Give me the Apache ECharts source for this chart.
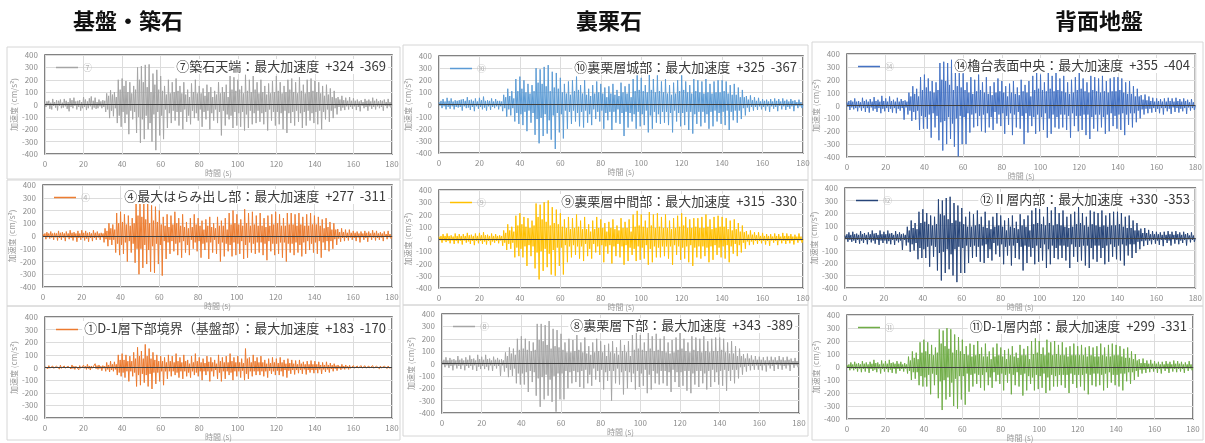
<!DOCTYPE html>
<html>
<head>
<meta charset="utf-8">
<title>加速度時刻歴</title>
<script src="https://cdn.jsdelivr.net/npm/echarts@6/dist/echarts.min.js"></script>
<style>
  html, body { margin: 0; background: #fff; }
  #main { width: 1205px; height: 443px; }
</style>
</head>
<body>
<div id="main"></div>
<script>
// sampling step of the digitised records (s)
const DT = 0.5;

const groupTitles = ['基盤・築石', '裏栗石', '背面地盤'];
const legendNames = ['⑦', '⑩', '⑭', '④', '⑨', '⑫', '①', '⑧', '⑪'];
const notes = [
  '⑦築石天端：最大加速度  +324  -369',
  '⑩裏栗層城部：最大加速度  +325  -367',
  '⑭櫓台表面中央：最大加速度  +355  -404',
  '④最大はらみ出し部：最大加速度  +277  -311',
  '⑨裏栗層中間部：最大加速度  +315  -330',
  '⑫Ⅱ層内部：最大加速度  +330  -353',
  '①D-1層下部境界（基盤部）：最大加速度  +183  -170',
  '⑧裏栗層下部：最大加速度  +343  -389',
  '⑪D-1層内部：最大加速度  +299  -331'
];
const yTicks = { min: -400, max: 400, step: 100 };
const xTicks = { min: 0, max: 180, step: 20 };

// acceleration (cm/s2), two values per second, one row = 10 s
const acc07 = [
  10,-20,25,-8,30,-35,15,-40,45,-12,20,-25,35,-48,30,-10,40,-30,15,-25,
  45,-15,30,-35,20,-55,50,-20,35,-30,55,-10,25,-40,30,-20,35,-50,20,-30,
  60,-20,40,-45,25,-30,50,-15,65,-40,30,-25,55,-35,20,-30,40,-15,25,-30,
  35,-20,30,-60,90,-40,70,-110,115,-50,80,-95,100,-30,60,-150,200,-90,120,-180,
  210,-60,150,-150,190,-80,100,-240,180,-50,90,-120,150,-60,120,-230,300,-100,200,-310,
  310,-120,180,-280,320,-90,140,-200,324,-150,100,-300,250,-80,160,-369,280,-60,120,-250,
  230,-90,110,-280,150,-40,80,-190,200,-70,90,-150,180,-50,100,-130,210,-60,110,-170,
  150,-60,90,-200,180,-40,80,-140,120,-90,60,-160,170,-50,100,-110,200,-70,90,-130,
  150,-40,90,-180,130,-60,70,-120,160,-50,100,-200,140,-70,60,-130,110,-40,80,-150,
  180,-60,90,-250,140,-50,100,-170,160,-80,60,-120,230,-90,120,-190,220,-60,110,-170,
  200,-70,120,-180,150,-60,90,-210,240,-80,110,-190,200,-50,100,-160,230,-70,120,-150,
  180,-50,90,-140,200,-70,100,-160,150,-60,80,-210,170,-40,90,-130,190,-60,100,-170,
  230,-60,110,-160,180,-70,90,-200,150,-50,100,-230,200,-70,120,-150,210,-60,100,-170,
  180,-50,90,-140,220,-70,110,-190,160,-60,90,-170,200,-50,100,-130,210,-70,110,-150,
  190,-60,100,-160,180,-50,90,-200,150,-60,70,-120,160,-40,80,-140,130,-50,60,-110,
  110,-30,50,-80,60,-20,40,-50,70,-25,35,-45,55,-15,30,-40,60,-20,30,-35,
  50,-15,30,-45,40,-20,25,-55,35,-10,20,-30,45,-20,30,-50,40,-15,25,-35,
  55,-20,30,-40,45,-15,25,-30,35,-20,30,-50,40,-10,20,-30,45,-15,20,-25,
  0
];
const acc10 = [
  20,-10,30,-30,45,-15,25,-40,55,-20,30,-35,50,-15,25,-40,35,-20,30,-25,
  35,-20,40,-50,45,-15,30,-30,60,-25,35,-45,40,-20,30,-55,50,-15,25,-35,
  55,-20,35,-40,65,-25,30,-50,35,-15,30,-45,50,-20,25,-30,45,-15,30,-40,
  30,-15,25,-55,80,-30,60,-100,130,-40,70,-90,110,-30,50,-140,210,-70,110,-160,
  230,-80,130,-170,200,-60,100,-220,170,-50,90,-150,160,-70,110,-250,300,-120,180,-320,
  290,-110,170,-260,310,-80,150,-240,325,-130,110,-290,270,-90,140,-367,260,-70,130,-230,
  220,-80,100,-280,170,-50,90,-200,190,-60,80,-160,200,-50,110,-140,230,-70,120,-180,
  160,-60,90,-190,200,-50,80,-150,130,-80,70,-170,160,-40,90,-120,190,-60,100,-140,
  170,-50,90,-200,140,-70,60,-130,150,-60,90,-210,170,-60,80,-150,120,-40,70,-160,
  180,-70,100,-260,150,-60,90,-190,170,-70,60,-140,210,-80,110,-200,240,-60,120,-180,
  220,-80,110,-170,160,-50,100,-230,250,-90,120,-200,210,-60,100,-150,240,-80,110,-160,
  190,-60,100,-150,210,-60,90,-170,160,-70,80,-230,180,-50,90,-140,200,-70,110,-180,
  240,-70,120,-170,190,-60,100,-210,160,-60,90,-240,210,-80,110,-160,200,-60,100,-180,
  190,-60,90,-150,210,-80,100,-200,170,-60,90,-180,190,-50,100,-140,200,-70,100,-160,
  200,-60,110,-170,190,-50,90,-210,160,-60,80,-130,170,-50,80,-150,140,-50,60,-120,
  120,-30,60,-90,70,-25,40,-60,75,-20,35,-50,60,-20,30,-45,55,-15,25,-40,
  45,-20,30,-50,40,-15,25,-60,45,-15,25,-35,50,-20,30,-55,45,-10,25,-40,
  50,-15,30,-45,40,-20,25,-35,45,-15,30,-55,35,-10,20,-30,40,-15,20,-30,
  0
];
const acc14 = [
  25,-10,35,-35,40,-15,30,-30,55,-20,30,-45,35,-15,25,-40,60,-20,35,-50,
  45,-20,30,-55,50,-15,30,-40,65,-25,35,-50,45,-20,30,-60,75,-25,35,-45,
  55,-20,30,-50,70,-25,35,-55,45,-20,30,-60,60,-25,30,-40,50,-20,35,-110,
  40,-15,30,-70,100,-40,70,-120,150,-50,90,-110,130,-40,70,-190,220,-80,120,-180,
  240,-90,140,-180,210,-70,110,-250,190,-60,100,-170,180,-80,120,-270,330,-130,200,-350,
  340,-120,190,-300,330,-90,160,-260,355,-140,120,-320,290,-100,150,-395,270,-80,140,-300,
  250,-90,120,-300,180,-60,100,-210,220,-70,90,-170,200,-60,110,-160,240,-80,120,-200,
  180,-70,100,-210,220,-60,90,-170,150,-90,80,-190,180,-50,100,-140,210,-70,110,-160,
  190,-60,100,-220,150,-80,70,-150,170,-60,100,-230,190,-70,90,-170,140,-50,80,-180,
  200,-80,110,-300,160,-60,100,-210,190,-80,70,-160,230,-90,120,-220,260,-70,130,-200,
  240,-90,120,-190,180,-60,110,-250,270,-100,130,-220,230,-70,110,-170,260,-90,120,-180,
  210,-70,110,-170,230,-70,100,-190,180,-80,90,-250,200,-60,100,-160,220,-80,120,-200,
  260,-80,130,-190,210,-70,110,-230,180,-70,100,-260,230,-90,120,-180,220,-70,110,-200,
  210,-70,100,-170,230,-90,110,-220,190,-70,100,-200,210,-60,110,-160,220,-80,110,-180,
  220,-70,120,-190,210,-60,100,-230,180,-70,90,-150,190,-60,90,-170,150,-60,70,-130,
  130,-40,70,-100,80,-30,45,-70,85,-25,40,-60,70,-25,35,-55,60,-20,30,-50,
  55,-25,35,-60,50,-20,30,-70,55,-20,30,-45,60,-25,35,-65,55,-15,30,-50,
  60,-20,35,-55,50,-25,30,-45,55,-20,35,-65,45,-15,25,-40,50,-20,25,-35,
  0
];
const acc04 = [
  15,-8,20,-25,30,-10,20,-20,35,-12,20,-30,25,-10,20,-35,40,-15,25,-30,
  30,-12,20,-40,35,-10,20,-25,45,-15,25,-35,30,-12,20,-45,40,-15,20,-30,
  45,-15,25,-35,40,-20,25,-45,30,-15,20,-40,45,-15,25,-30,35,-12,20,-30,
  25,-10,20,-50,60,-25,40,-80,100,-30,60,-70,90,-30,50,-130,180,-60,100,-150,
  190,-70,110,-140,170,-50,90,-200,160,-40,80,-130,140,-60,100,-210,270,-100,160,-300,
  260,-100,150,-250,265,-70,130,-220,277,-110,100,-280,240,-80,120,-290,230,-60,110,-220,
  200,-70,90,-311,150,-40,80,-180,170,-50,70,-140,160,-40,90,-120,190,-60,100,-150,
  140,-50,80,-170,170,-40,70,-130,110,-70,60,-150,140,-30,70,-100,170,-50,90,-120,
  140,-40,80,-170,120,-60,50,-110,130,-50,80,-180,150,-50,70,-130,100,-30,60,-140,
  150,-60,80,-200,120,-50,80,-160,140,-60,50,-120,180,-70,90,-160,200,-50,100,-150,
  170,-60,90,-140,130,-40,80,-180,210,-70,100,-170,180,-50,80,-130,190,-60,90,-140,
  160,-50,80,-130,180,-50,80,-150,140,-60,70,-190,160,-40,80,-120,170,-60,90,-150,
  190,-60,100,-140,170,-50,80,-170,140,-50,80,-200,180,-60,90,-130,180,-60,90,-150,
  170,-50,80,-130,180,-70,90,-160,150,-50,80,-140,170,-40,80,-110,180,-60,90,-130,
  160,-50,90,-140,150,-40,80,-170,130,-50,60,-110,140,-40,70,-120,110,-40,50,-100,
  100,-25,50,-70,55,-20,30,-45,60,-15,30,-40,50,-15,25,-35,50,-12,25,-30,
  40,-15,25,-40,35,-12,20,-50,35,-10,20,-30,40,-15,25,-45,35,-10,20,-30,
  45,-12,25,-35,40,-15,20,-30,30,-12,20,-40,35,-8,15,-25,40,-10,15,-20,
  0
];
const acc09 = [
  20,-10,25,-30,40,-12,25,-25,45,-15,25,-35,30,-12,20,-40,45,-15,25,-35,
  40,-15,25,-45,40,-12,25,-30,50,-20,30,-40,35,-15,25,-50,45,-15,25,-35,
  50,-15,30,-40,55,-20,30,-45,35,-15,25,-50,45,-20,25,-30,40,-15,25,-35,
  30,-12,25,-55,70,-30,50,-90,120,-40,70,-80,100,-30,60,-150,190,-70,110,-140,
  210,-80,120,-150,180,-60,100,-220,170,-50,90,-140,150,-60,110,-240,290,-110,180,-330,
  280,-100,160,-260,300,-80,140,-230,315,-120,110,-290,260,-90,130,-300,240,-70,120,-220,
  210,-70,100,-290,160,-50,90,-190,180,-60,80,-150,170,-50,90,-130,200,-60,100,-160,
  150,-60,80,-180,180,-40,80,-140,120,-80,60,-160,150,-40,80,-110,180,-60,90,-130,
  160,-50,90,-190,130,-60,60,-120,140,-50,90,-200,160,-60,80,-140,110,-40,70,-150,
  170,-60,90,-210,140,-50,90,-180,160,-70,60,-130,200,-80,100,-180,230,-60,110,-170,
  200,-70,100,-160,150,-50,90,-210,220,-80,110,-190,200,-60,90,-150,210,-70,100,-150,
  180,-60,90,-140,200,-60,90,-160,150,-60,80,-210,170,-50,90,-130,190,-60,100,-170,
  210,-70,110,-160,180,-60,90,-190,160,-50,90,-220,170,-70,100,-150,170,-60,90,-160,
  180,-60,90,-140,200,-70,100,-190,160,-60,80,-170,180,-50,90,-130,190,-70,100,-150,
  180,-60,100,-160,170,-50,80,-190,150,-60,70,-120,160,-40,80,-140,130,-50,60,-110,
  110,-30,55,-80,65,-20,35,-50,70,-20,35,-45,55,-15,30,-40,55,-15,25,-35,
  50,-15,25,-45,40,-15,25,-55,40,-12,20,-30,45,-15,25,-50,40,-12,20,-35,
  50,-15,25,-40,45,-15,25,-35,40,-15,20,-45,35,-10,20,-30,45,-12,20,-30,
  0
];
const acc12 = [
  20,-10,30,-30,45,-15,25,-30,50,-20,30,-40,35,-15,25,-45,55,-20,30,-40,
  40,-15,25,-50,45,-15,30,-35,60,-20,35,-45,40,-15,25,-55,60,-20,30,-40,
  50,-20,30,-45,60,-25,35,-50,40,-15,25,-55,55,-20,30,-35,45,-20,30,-95,
  35,-15,25,-60,90,-35,60,-110,140,-50,80,-100,120,-40,70,-170,210,-80,120,-160,
  230,-90,130,-160,200,-70,110,-230,180,-60,100,-150,170,-70,110,-260,310,-120,190,-340,
  300,-110,180,-280,320,-90,150,-250,330,-130,120,-300,280,-90,140,-353,260,-70,130,-280,
  240,-80,110,-280,170,-60,90,-200,210,-70,90,-160,190,-60,100,-150,220,-70,110,-190,
  170,-60,90,-200,210,-50,80,-160,140,-90,70,-180,170,-40,90,-130,200,-60,100,-150,
  180,-50,90,-210,140,-70,60,-140,160,-60,90,-220,180,-60,80,-160,130,-40,70,-170,
  190,-70,100,-260,150,-60,90,-200,180,-70,60,-150,220,-80,110,-210,240,-60,120,-190,
  230,-80,110,-180,170,-50,100,-240,250,-90,120,-210,220,-60,100,-160,250,-80,110,-170,
  200,-60,100,-160,220,-60,90,-180,170,-70,80,-240,190,-50,90,-150,210,-70,110,-190,
  250,-70,120,-180,200,-60,100,-220,170,-60,90,-240,220,-80,110,-170,210,-60,100,-190,
  200,-60,90,-160,220,-80,100,-210,180,-60,90,-190,200,-50,100,-150,210,-70,100,-170,
  210,-60,110,-180,200,-50,90,-220,170,-60,80,-140,180,-50,80,-160,140,-50,60,-120,
  120,-30,60,-90,75,-25,40,-65,80,-20,40,-55,65,-20,30,-50,55,-15,30,-45,
  50,-20,30,-55,45,-15,25,-65,50,-15,25,-40,55,-20,30,-60,50,-10,25,-45,
  55,-15,30,-50,45,-20,25,-40,50,-15,30,-60,40,-10,20,-35,45,-15,20,-30,
  0
];
const acc01 = [
  5,-3,8,-10,15,-5,8,-8,12,-6,8,-15,10,-5,6,-12,18,-6,8,-10,
  12,-5,8,-15,10,-4,6,-12,20,-8,10,-15,10,-5,8,-18,15,-6,8,-12,
  18,-6,10,-15,25,-8,12,-20,12,-6,8,-18,30,-10,15,-15,20,-8,10,-25,
  15,-6,10,-30,40,-15,20,-35,50,-20,25,-30,45,-15,25,-60,100,-40,60,-70,
  110,-40,60,-80,100,-30,50,-110,90,-30,50,-70,120,-40,70,-150,160,-60,90,-140,
  130,-50,70,-120,183,-60,90,-150,150,-50,70,-170,120,-40,60,-130,100,-40,50,-110,
  90,-30,50,-140,80,-30,40,-90,100,-30,50,-70,90,-30,40,-60,110,-40,50,-80,
  80,-30,40,-90,100,-30,50,-70,60,-40,30,-80,90,-30,40,-60,110,-40,50,-70,
  80,-30,40,-100,70,-30,35,-60,90,-30,45,-110,80,-30,40,-70,60,-20,30,-90,
  100,-40,50,-110,80,-30,40,-90,90,-30,40,-60,110,-40,50,-100,80,-30,40,-70,
  90,-30,40,-80,70,-25,35,-100,150,-50,70,-90,80,-30,40,-70,100,-30,50,-60,
  80,-30,40,-60,90,-30,40,-70,60,-30,30,-80,70,-25,35,-50,80,-30,40,-60,
  70,-25,35,-60,80,-30,40,-70,60,-20,30,-80,70,-25,35,-50,60,-20,30,-55,
  55,-20,25,-45,60,-20,30,-50,45,-15,25,-55,50,-20,25,-40,55,-20,25,-45,
  50,-20,25,-45,45,-15,20,-50,40,-15,20,-35,45,-15,20,-40,35,-12,18,-30,
  30,-10,15,-25,20,-8,10,-18,25,-8,12,-15,20,-6,10,-15,18,-6,8,-12,
  15,-5,8,-15,12,-4,6,-18,15,-5,8,-10,14,-5,7,-16,12,-4,6,-10,
  15,-5,8,-12,10,-4,5,-10,12,-4,6,-15,10,-3,5,-8,12,-4,5,-6,
  0
];
const acc08 = [
  20,-10,30,-30,50,-15,25,-35,45,-20,30,-55,35,-15,25,-40,60,-20,30,-45,
  40,-15,25,-55,50,-20,30,-35,65,-20,35,-50,40,-15,25,-60,70,-25,35,-45,
  55,-20,30,-45,70,-25,35,-55,40,-15,25,-60,55,-20,30,-40,45,-20,30,-100,
  35,-15,25,-65,90,-35,60,-110,130,-50,80,-100,120,-40,70,-160,200,-80,110,-170,
  220,-80,120,-170,200,-70,110,-230,180,-60,100,-150,170,-70,110,-260,320,-120,190,-350,
  320,-110,180,-290,310,-90,150,-260,343,-130,120,-310,280,-100,140,-389,270,-80,130,-290,
  240,-80,110,-290,170,-60,90,-200,200,-70,90,-160,190,-60,100,-150,230,-70,110,-190,
  170,-60,90,-200,210,-50,80,-160,140,-90,70,-180,170,-40,90,-130,200,-60,100,-150,
  180,-50,90,-210,150,-70,60,-140,160,-60,90,-300,180,-60,80,-160,130,-40,70,-170,
  190,-70,100,-250,150,-60,90,-200,180,-70,60,-150,230,-80,110,-210,250,-60,120,-190,
  230,-80,110,-180,170,-50,100,-240,260,-90,120,-210,220,-60,100,-160,240,-80,110,-170,
  200,-60,100,-160,220,-60,90,-180,170,-70,80,-230,190,-50,90,-150,210,-70,110,-190,
  250,-70,120,-180,200,-60,100,-220,170,-60,90,-240,220,-80,110,-170,210,-60,100,-190,
  200,-60,90,-160,220,-80,100,-210,180,-60,90,-190,200,-50,100,-150,210,-70,100,-170,
  210,-60,110,-180,200,-50,90,-220,170,-60,80,-140,180,-50,80,-160,140,-50,60,-120,
  120,-30,60,-90,75,-25,40,-65,80,-20,40,-55,65,-20,30,-50,60,-15,30,-50,
  55,-20,30,-55,50,-15,25,-65,55,-15,25,-40,55,-20,30,-60,50,-10,25,-45,
  60,-15,30,-50,50,-20,25,-40,55,-15,30,-60,40,-10,20,-35,45,-15,20,-30,
  0
];
const acc11 = [
  15,-8,20,-25,35,-12,20,-25,40,-15,25,-35,30,-12,20,-40,45,-15,25,-35,
  35,-12,20,-45,40,-15,25,-30,55,-20,30,-40,35,-12,20,-50,50,-15,25,-35,
  45,-15,25,-40,55,-20,30,-45,35,-15,25,-50,45,-15,25,-30,40,-15,20,-35,
  30,-12,20,-50,80,-30,50,-100,120,-40,70,-90,110,-40,60,-140,190,-70,110,-150,
  210,-80,120,-150,190,-60,100,-210,170,-50,90,-140,150,-60,110,-240,290,-110,180,-331,
  280,-100,160,-250,299,-80,140,-230,290,-120,110,-300,250,-90,130,-320,230,-70,120,-250,
  210,-70,100,-290,160,-50,90,-190,180,-60,80,-150,170,-50,90,-130,200,-60,100,-160,
  150,-60,80,-180,180,-40,80,-140,120,-80,60,-160,150,-40,80,-110,180,-60,90,-130,
  150,-50,80,-180,130,-60,60,-120,140,-50,90,-210,160,-60,80,-140,110,-40,70,-150,
  170,-60,90,-220,140,-50,90,-180,160,-70,60,-130,200,-80,100,-180,220,-60,110,-170,
  200,-70,100,-160,150,-50,90,-200,210,-80,110,-180,190,-60,90,-150,200,-70,100,-150,
  170,-60,90,-140,190,-60,90,-160,150,-60,80,-200,160,-50,90,-130,180,-60,90,-160,
  160,-60,90,-150,170,-60,90,-180,150,-50,80,-210,160,-60,90,-140,150,-50,80,-150,
  160,-50,80,-140,180,-60,90,-180,150,-50,80,-160,170,-40,80,-120,180,-60,90,-140,
  170,-60,90,-150,160,-50,80,-180,140,-50,70,-110,150,-40,70,-130,120,-40,60,-100,
  100,-30,50,-75,60,-20,30,-50,65,-20,30,-45,50,-15,25,-40,55,-15,25,-35,
  45,-15,25,-45,40,-15,20,-50,40,-12,20,-30,45,-15,25,-45,40,-12,20,-35,
  50,-15,25,-40,45,-15,25,-35,40,-15,20,-45,35,-10,20,-30,45,-12,20,-25,
  0
];

const records = [acc07, acc10, acc14, acc04, acc09, acc12, acc01, acc08, acc11];
const colors = ['#a5a5a5', '#5b9bd5', '#4472c4', '#ed7d31', '#ffc000', '#264478', '#ec7a2f', '#a5a5a5', '#70ad47'];

// plot areas in px: [left, top, width, height]
const plotBoxes = [
  [45, 55, 347, 99], [439, 56, 364, 97], [847, 54, 349, 103],
  [43, 185, 349, 102], [439, 190, 364, 98], [845, 188, 351, 100],
  [45, 317, 347, 101], [442, 314, 357, 99], [847, 315, 346, 104]
];
// outer chart frames: [x, y, w, h]
const frames = [
  [7, 47, 393, 132], [403, 45, 405, 135], [812, 42, 391, 138],
  [7, 180, 393, 126], [403, 180, 405, 125], [812, 180, 391, 126],
  [7, 306, 393, 134], [403, 305, 405, 131], [812, 306, 391, 134]
];
const titleX = [128, 609, 1099];

const FONT = '"Noto Sans CJK JP", "Noto Sans", sans-serif';
const chart = echarts.init(document.getElementById('main'));

const grids = [], xAxes = [], yAxes = [], series = [], legends = [], graphics = [];

frames.forEach(f => {
  graphics.push({
    type: 'rect', silent: true, z: 0,
    shape: { x: f[0], y: f[1], width: f[2], height: f[3] },
    style: { fill: 'none', stroke: '#d6d6d6', lineWidth: 1 }
  });
});

groupTitles.forEach((t, i) => {
  graphics.push({
    type: 'text', silent: true,
    x: titleX[i], y: 21,
    style: { text: t, fill: '#111', font: 'bold 22px ' + FONT, textAlign: 'center', textVerticalAlign: 'middle' }
  });
});

records.forEach((rec, i) => {
  const [l, t, w, h] = plotBoxes[i];
  grids.push({
    left: l, top: t, width: w, height: h,
    show: true, borderColor: '#595959', borderWidth: 1.5, backgroundColor: 'transparent'
  });
  xAxes.push({
    type: 'value', gridIndex: i,
    min: xTicks.min, max: xTicks.max, interval: xTicks.step,
    name: '時間 (s)', nameLocation: 'middle', nameGap: 15,
    nameTextStyle: { fontSize: 8, color: '#9a9a9a', fontFamily: FONT },
    axisLine: { show: false }, axisTick: { show: false },
    axisLabel: { fontSize: 8, color: '#8c8c8c', margin: 6 },
    splitLine: { lineStyle: { color: '#dcdcdc', width: 1 } }
  });
  yAxes.push({
    type: 'value', gridIndex: i,
    min: yTicks.min, max: yTicks.max, interval: yTicks.step,
    name: '加速度 (cm/s²)', nameLocation: 'middle', nameGap: 26, nameRotate: 90,
    nameTextStyle: { fontSize: 8, color: '#9a9a9a', fontFamily: FONT },
    axisLine: { show: false }, axisTick: { show: false },
    axisLabel: { fontSize: 8, color: '#8c8c8c', margin: 7 },
    splitLine: { lineStyle: { color: '#dcdcdc', width: 1 } }
  });
  series.push({
    name: legendNames[i], type: 'line',
    xAxisIndex: i, yAxisIndex: i,
    data: rec.map((v, k) => [k * DT, v]),
    showSymbol: false, symbol: 'none', sampling: null,
    lineStyle: { color: colors[i], width: 1 },
    itemStyle: { color: colors[i] },
    markLine: {
      silent: true, symbol: 'none', animation: false,
      label: { show: false },
      lineStyle: { color: '#404040', width: 1.2, type: 'solid' },
      data: [{ yAxis: 0 }]
    }
  });
  legends.push({
    data: [legendNames[i]],
    left: l + 6, top: t + 3,
    icon: 'rect', itemWidth: 22, itemHeight: 1.5, itemGap: 4,
    textStyle: { fontSize: 9, color: '#b5b5b5' }
  });
  graphics.push({
    type: 'text', silent: true, z: 10,
    x: l + w - 4, y: t + 4,
    style: {
      text: notes[i], fill: '#3a3a3a', font: '13px ' + FONT,
      textAlign: 'right', textVerticalAlign: 'top',
      backgroundColor: '#fff', padding: [1, 2]
    }
  });
});

chart.setOption({
  animation: false,
  backgroundColor: '#fff',
  textStyle: { fontFamily: FONT },
  grid: grids,
  xAxis: xAxes,
  yAxis: yAxes,
  legend: legends,
  series: series,
  graphic: graphics
});
window.addEventListener('resize', () => chart.resize());
</script>
</body>
</html>
